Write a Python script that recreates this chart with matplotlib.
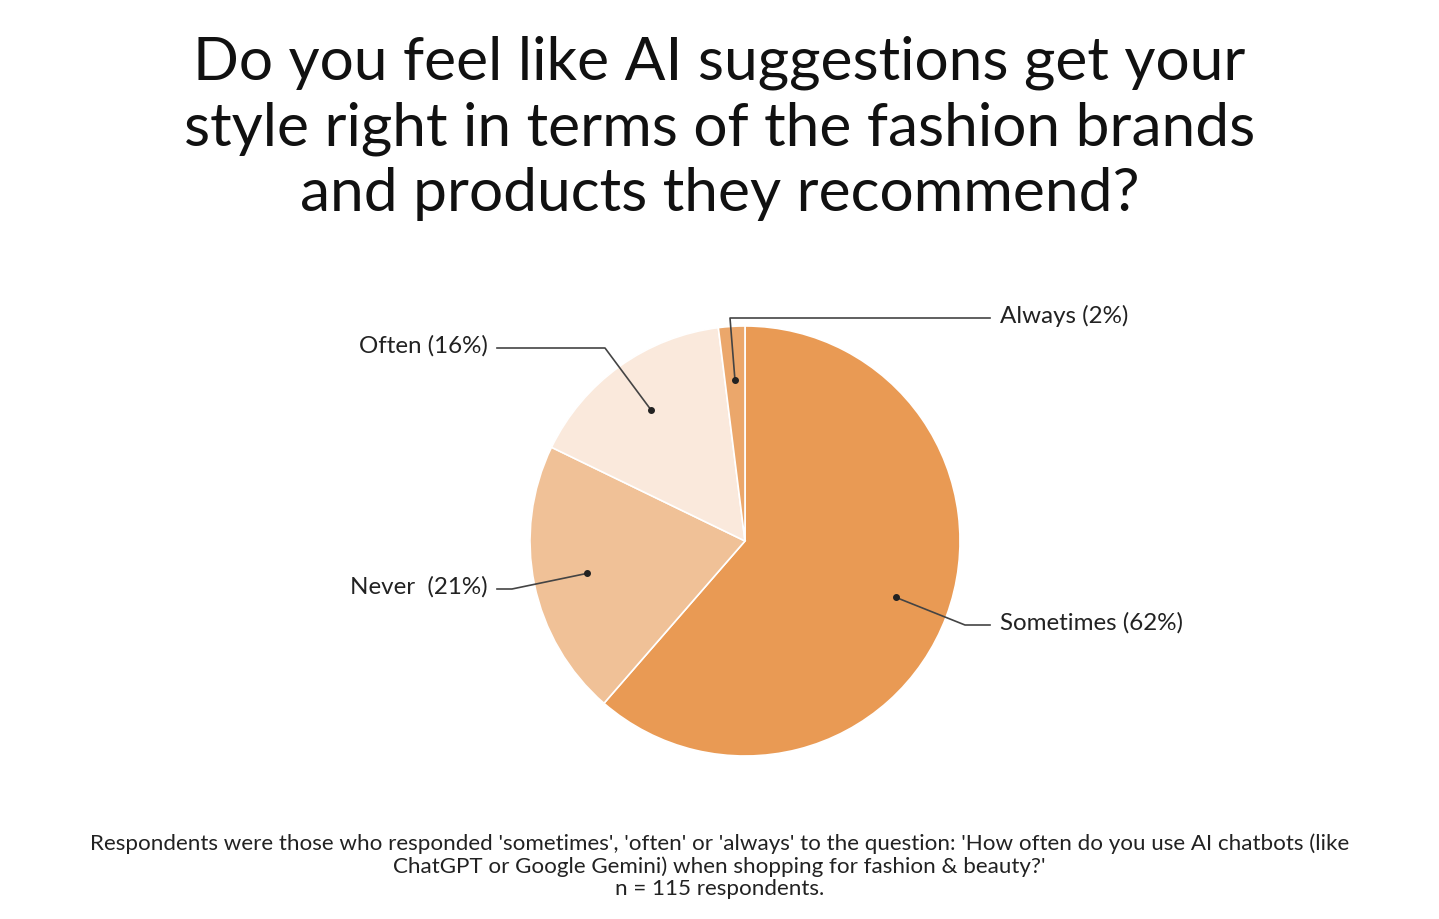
import numpy as np
import matplotlib.pyplot as plt

labels = ['Sometimes (62%)', 'Never  (21%)', 'Often (16%)', 'Always (2%)']
values = [62, 21, 16, 2]
colors = ['#E99A54', '#F0C197', '#FAE9DC', '#EBA76B']

title = ('Do you feel like AI suggestions get your\n'
         'style right in terms of the fashion brands\n'
         'and products they recommend?')
note = ("Respondents were those who responded 'sometimes', 'often' or 'always' to the question: "
        "'How often do you use AI chatbots (like\n"
        "ChatGPT or Google Gemini) when shopping for fashion & beauty?'\n"
        "n = 115 respondents.")

W, H = 1439, 919
fig = plt.figure(figsize=(W / 100, H / 100), dpi=100)
ax = fig.add_axes([0, 0, 1, 1])
ax.set_xlim(0, W)
ax.set_ylim(0, H)
ax.set_aspect('equal')
ax.axis('off')

cx, cy, r = 745, H - 541, 215
wedges, _ = ax.pie(values, colors=colors, startangle=90, counterclock=False,
                   center=(cx, cy), radius=r,
                   wedgeprops=dict(edgecolor='white', linewidth=1.2))
ax.set_xlim(0, W)
ax.set_ylim(0, H)

# label layout: elbow point, line end, text anchor
layout = [
    ((965, H - 625), (990, H - 625), 1000, 'left'),
    ((512, H - 589), (497, H - 589), 488, 'right'),
    ((605, H - 348), (497, H - 348), 488, 'right'),
    ((730, H - 318), (990, H - 318), 1000, 'left'),
]

for w, lab, (elbow, end, tx, ha) in zip(wedges, labels, layout):
    ang = np.deg2rad((w.theta1 + w.theta2) / 2)
    dx = cx + 0.75 * r * np.cos(ang)
    dy = cy + 0.75 * r * np.sin(ang)
    ax.plot([dx, elbow[0], end[0]], [dy, elbow[1], end[1]], color='#444444', lw=1.2)
    ax.plot(dx, dy, 'o', color='#222222', markersize=4)
    ax.text(tx, end[1] + 2, lab, ha=ha, va='center', fontsize=17.4,
            family='Lato', color='#222222')

fig.text(0.5, 1 - 128 / H, title, ha='center', va='center', fontsize=43.5,
         family='Lato', linespacing=1.26, color='#111111')
fig.text(0.5, 1 - 866 / H, note, ha='center', va='center', fontsize=16.1,
         family='Lato', linespacing=1.12, color='#222222')

fig.savefig('out.png', dpi=100, facecolor='white')
